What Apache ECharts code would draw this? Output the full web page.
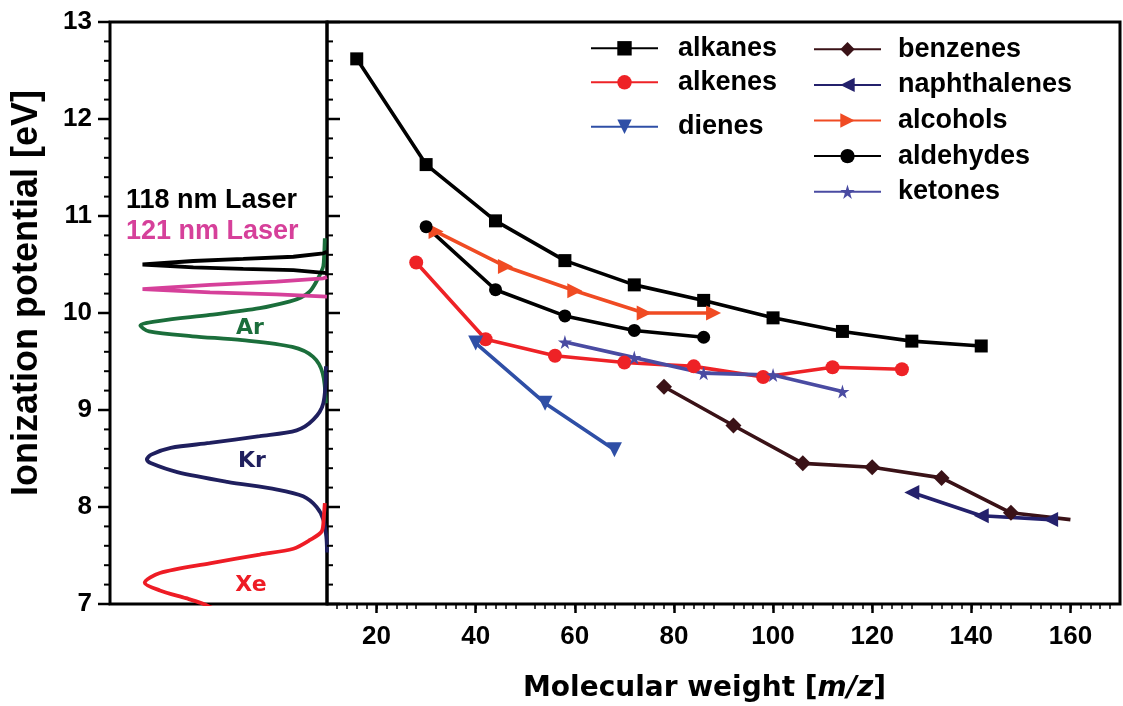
<!DOCTYPE html>
<html>
<head>
<meta charset="utf-8">
<script src="https://cdn.jsdelivr.net/npm/echarts@6/dist/echarts.min.js"></script>
<style>
html, body { margin: 0; padding: 0; background: #fff; }
#chart { width: 1123px; height: 706px; }
</style>
</head>
<body>
<div id="chart"></div>
<script>
// ---- Ionization potential (eV) versus molecular weight (m/z) per compound class ----
const alkanesMW = [16, 30, 44, 58, 72, 86, 100, 114, 128, 142];
const alkanesIP = [12.62, 11.53, 10.95, 10.54, 10.29, 10.13, 9.95, 9.81, 9.71, 9.66];

const alkenesMW = [28, 42, 56, 70, 84, 98, 112, 126];
const alkenesIP = [10.52, 9.73, 9.56, 9.49, 9.45, 9.34, 9.44, 9.42];

const dienesMW = [40, 54, 68];
const dienesIP = [9.69, 9.07, 8.59];

const benzenesMW = [78, 92, 106, 120, 134, 148];
const benzenesIP = [9.24, 8.84, 8.45, 8.41, 8.30, 7.94];
const benzenesLineEnd = [160, 7.87];   // trace continues past the last marker

const naphthalenesMW = [128, 142, 156];
const naphthalenesIP = [8.15, 7.91, 7.87];

const alcoholsMW = [32, 46, 60, 74, 88];
const alcoholsIP = [10.84, 10.48, 10.23, 10.00, 10.00];

const aldehydesMW = [30, 44, 58, 72, 86];
const aldehydesIP = [10.89, 10.24, 9.97, 9.82, 9.75];

const ketonesMW = [58, 72, 86, 100, 114];
const ketonesIP = [9.70, 9.54, 9.38, 9.36, 9.19];

// ---- Reference spectra in the side panel: photon energy (eV) and relative signal ----
const arEnergy = [10.77, 10.52, 10.46, 10.32, 10.22, 10.16, 10.12, 10.05, 9.98, 9.92, 9.87, 9.81, 9.76, 9.72, 9.65, 9.55, 9.38, 9.07];
const arSignal = [1, 1.5, 2, 5, 8, 12, 17, 31, 54, 77, 86, 82, 62, 39, 16, 6.5, 2, 0.5];

const krEnergy = [9.45, 9.07, 8.90, 8.79, 8.73, 8.66, 8.61, 8.54, 8.49, 8.45, 8.36, 8.26, 8.18, 8.11, 8.00, 7.87, 7.69, 7.53];
const krSignal = [0.5, 1.7, 6.3, 14, 31, 54, 72, 81, 83, 81, 69, 46, 23, 11, 4.8, 1.7, 0.3, 0];

const xeEnergy = [8.04, 7.90, 7.75, 7.66, 7.57, 7.51, 7.42, 7.32, 7.22, 7.14, 7.06, 7.01, 6.95];
const xeSignal = [1, 1.5, 2.4, 7.8, 15.5, 31, 54, 77, 84, 77, 65, 58, 52];

const laser118Energy = [10.63, 10.615, 10.58, 10.557, 10.536, 10.50, 10.471, 10.454, 10.443, 10.41];
const laser118Signal = [0, 1.7, 15.5, 38.6, 61.6, 85, 61.6, 38.6, 15.5, 0];

const laser121Energy = [10.37, 10.358, 10.323, 10.289, 10.246, 10.213, 10.193, 10.168];
const laser121Signal = [0, 1.7, 23.2, 53.9, 85, 53.9, 23.2, 0];

// ---- Axis ticks ----
const xTickValues = [20, 40, 60, 80, 100, 120, 140, 160];
const energyTickValues = [
  7, 7.2, 7.4, 7.6, 7.8, 8, 8.2, 8.4, 8.6, 8.8, 9, 9.2, 9.4, 9.6, 9.8,
  10, 10.2, 10.4, 10.6, 10.8, 11, 11.2, 11.4, 11.6, 11.8, 12, 12.2, 12.4, 12.6, 12.8, 13
];

const FONT = "'Liberation Sans', Arial, sans-serif";
const WIDE = "'DejaVu Sans', Verdana, sans-serif";

const zip = (xs, ys) => xs.map((x, i) => [x, ys[i]]);
const STAR = 'path://M50,0 L61,35 L98,35 L68,57 L79,91 L50,70 L21,91 L32,57 L2,35 L39,35 Z';
const isWhole = (v) => Math.abs(v - Math.round(v)) < 1e-6;

function classSeries(name, mw, ip, color, symbol, size, rotate, extra) {
  const data = zip(mw, ip);
  if (extra) data.push({ value: extra, symbol: 'none' });
  return {
    name, type: 'line', xAxisIndex: 1, yAxisIndex: 1,
    data, symbol, symbolSize: size, symbolRotate: rotate || 0,
    lineStyle: { color, width: 3.6 },
    itemStyle: { color, borderWidth: 0 },
    emphasis: { disabled: true },
    z: 3
  };
}

function spectrum(name, sig, en, color, smooth) {
  return {
    name, type: 'line', xAxisIndex: 0, yAxisIndex: 0,
    data: zip(sig, en), showSymbol: false, symbol: 'none',
    smooth: smooth, clip: true,
    lineStyle: { color, width: 3.8 },
    emphasis: { disabled: true },
    z: 2
  };
}

// Energy tick marks drawn at the panel edge: outward on the outer left edge,
// inward on the class panel's left edge. Whole-eV ticks are longer.
function energyTicks(name, axisIndex, edgeValue, outward) {
  return {
    name, type: 'custom', xAxisIndex: axisIndex, yAxisIndex: axisIndex,
    silent: true, clip: false, z: 5,
    data: energyTickValues.map((e) => [edgeValue, e, isWhole(e) ? 1 : 0]),
    renderItem: (params, api) => {
      const p = api.coord([api.value(0), api.value(1)]);
      const major = api.value(2) === 1;
      const len = outward ? (major ? 12 : 6) : (major ? 13 : 6);
      return {
        type: 'line',
        shape: { x1: p[0], y1: p[1], x2: outward ? p[0] - len : p[0] + len, y2: p[1] },
        style: { stroke: '#000', lineWidth: major ? 2.5 : 2 }
      };
    }
  };
}

const legendBase = {
  orient: 'vertical', padding: 0, itemWidth: 67, itemHeight: 18,
  selectedMode: false,
  textStyle: { fontFamily: FONT, fontWeight: 'bold', fontSize: 27, lineHeight: 27, color: '#000' }
};

const PLOT_TOP = 22, PLOT_H = 582;

const chart = echarts.init(document.getElementById('chart'), null, { renderer: 'canvas' });

chart.setOption({
  animation: false,
  backgroundColor: '#fff',
  grid: [
    // 0: spectra panel
    { left: 110, top: PLOT_TOP, width: 217, height: PLOT_H, show: true, borderColor: '#000', borderWidth: 3, backgroundColor: 'transparent' },
    // 1: compound-class panel
    { left: 327, top: PLOT_TOP, width: 793, height: PLOT_H, show: true, borderColor: '#000', borderWidth: 3, backgroundColor: 'transparent' },
    // 2: carries the labelled energy scale on the outer left edge
    { left: 110, top: PLOT_TOP, width: 217, height: PLOT_H, show: false }
  ],
  xAxis: [
    { gridIndex: 0, type: 'value', min: 0, max: 100, inverse: true, show: false },
    {
      gridIndex: 1, type: 'value', min: 10, max: 170, interval: 20,
      axisLine: { show: false },
      axisTick: { show: true, length: 9, customValues: xTickValues, lineStyle: { color: '#000', width: 2.5 } },
      minorTick: { show: true, splitNumber: 10, length: 5, lineStyle: { color: '#000', width: 1.5 } },
      axisLabel: { customValues: xTickValues, margin: 20, fontFamily: FONT, fontWeight: 'bold', fontSize: 26, color: '#000' },
      splitLine: { show: false }
    },
    { gridIndex: 2, type: 'value', min: 1, max: 2, show: false }
  ],
  yAxis: [
    { gridIndex: 0, type: 'value', min: 7, max: 13, interval: 1, show: false },
    { gridIndex: 1, type: 'value', min: 7, max: 13, interval: 1, show: false },
    {
      gridIndex: 2, type: 'value', min: 7, max: 13, interval: 1, position: 'left',
      axisLine: { show: false }, axisTick: { show: false },
      axisLabel: { margin: 18, fontFamily: FONT, fontWeight: 'bold', fontSize: 26, color: '#000' },
      splitLine: { show: false }
    }
  ],
  legend: [
    Object.assign({}, legendBase, { left: 590, top: 34.8, itemGap: 7, data: ['alkanes', 'alkenes'],
      textStyle: Object.assign({}, legendBase.textStyle, { padding: [0, 0, 0, 15] }) }),
    Object.assign({}, legendBase, { left: 590, top: 113.2, itemGap: 7, data: ['dienes'],
      textStyle: Object.assign({}, legendBase.textStyle, { padding: [0, 0, 0, 15] }) }),
    Object.assign({}, legendBase, { left: 813, top: 35.8, itemGap: 8.6,
      data: ['benzenes', 'naphthalenes', 'alcohols', 'aldehydes', 'ketones'],
      textStyle: Object.assign({}, legendBase.textStyle, { padding: [0, 0, 0, 12] }) })
  ],
  series: [
    spectrum('Ar', arSignal, arEnergy, '#1b6e3b', 0.3),
    spectrum('Kr', krSignal, krEnergy, '#1f1f5e', 0.3),
    spectrum('Xe', xeSignal, xeEnergy, '#ee1c25', 0.3),
    spectrum('118 nm Laser', laser118Signal, laser118Energy, '#000000', 0),
    spectrum('121 nm Laser', laser121Signal, laser121Energy, '#d6409a', 0),

    classSeries('alkanes', alkanesMW, alkanesIP, '#000000', 'rect', 13),
    classSeries('alkenes', alkenesMW, alkenesIP, '#ee2226', 'circle', 14),
    classSeries('dienes', dienesMW, dienesIP, '#2f4fa6', 'triangle', 15, 180),
    classSeries('benzenes', benzenesMW, benzenesIP, '#3a1217', 'diamond', 16, 0, benzenesLineEnd),
    classSeries('naphthalenes', naphthalenesMW, naphthalenesIP, '#24216c', 'triangle', 15, 90),
    classSeries('alcohols', alcoholsMW, alcoholsIP, '#f04b23', 'triangle', 15, -90),
    classSeries('aldehydes', aldehydesMW, aldehydesIP, '#000000', 'circle', 13),
    classSeries('ketones', ketonesMW, ketonesIP, '#4a4ba2', STAR, 14),

    energyTicks('energy ticks outer', 0, 100, true),
    energyTicks('energy ticks inner', 1, 10, false)
  ],
  graphic: [
    { type: 'text', x: 27, y: 293, rotation: Math.PI / 2,
      style: { text: 'Ionization potential [eV]', font: "bold 36px " + FONT, fill: '#000', align: 'center', verticalAlign: 'middle' } },
    { type: 'text', x: 704.5, y: 689,
      style: { text: '{n|Molecular weight [}{i|m/z}{n|]}', align: 'center', verticalAlign: 'middle',
        rich: {
          n: { fontFamily: WIDE, fontWeight: 'bold', fontSize: 28, fill: '#000' },
          i: { fontFamily: WIDE, fontWeight: 'bold', fontStyle: 'italic', fontSize: 28, fill: '#000' }
        } } },
    { type: 'text', x: 126, y: 201,
      style: { text: '118 nm Laser', font: "bold 27px " + FONT, fill: '#000', align: 'left', verticalAlign: 'middle' } },
    { type: 'text', x: 126, y: 232,
      style: { text: '121 nm Laser', font: "bold 27px " + FONT, fill: '#d6409a', align: 'left', verticalAlign: 'middle' } },
    { type: 'text', x: 250, y: 328,
      style: { text: 'Ar', font: "bold 22px " + WIDE, fill: '#1b6e3b', align: 'center', verticalAlign: 'middle' } },
    { type: 'text', x: 252, y: 461,
      style: { text: 'Kr', font: "bold 22px " + WIDE, fill: '#1f1f5e', align: 'center', verticalAlign: 'middle' } },
    { type: 'text', x: 251, y: 585,
      style: { text: 'Xe', font: "bold 22px " + WIDE, fill: '#ee1c25', align: 'center', verticalAlign: 'middle' } }
  ]
});
</script>
</body>
</html>
